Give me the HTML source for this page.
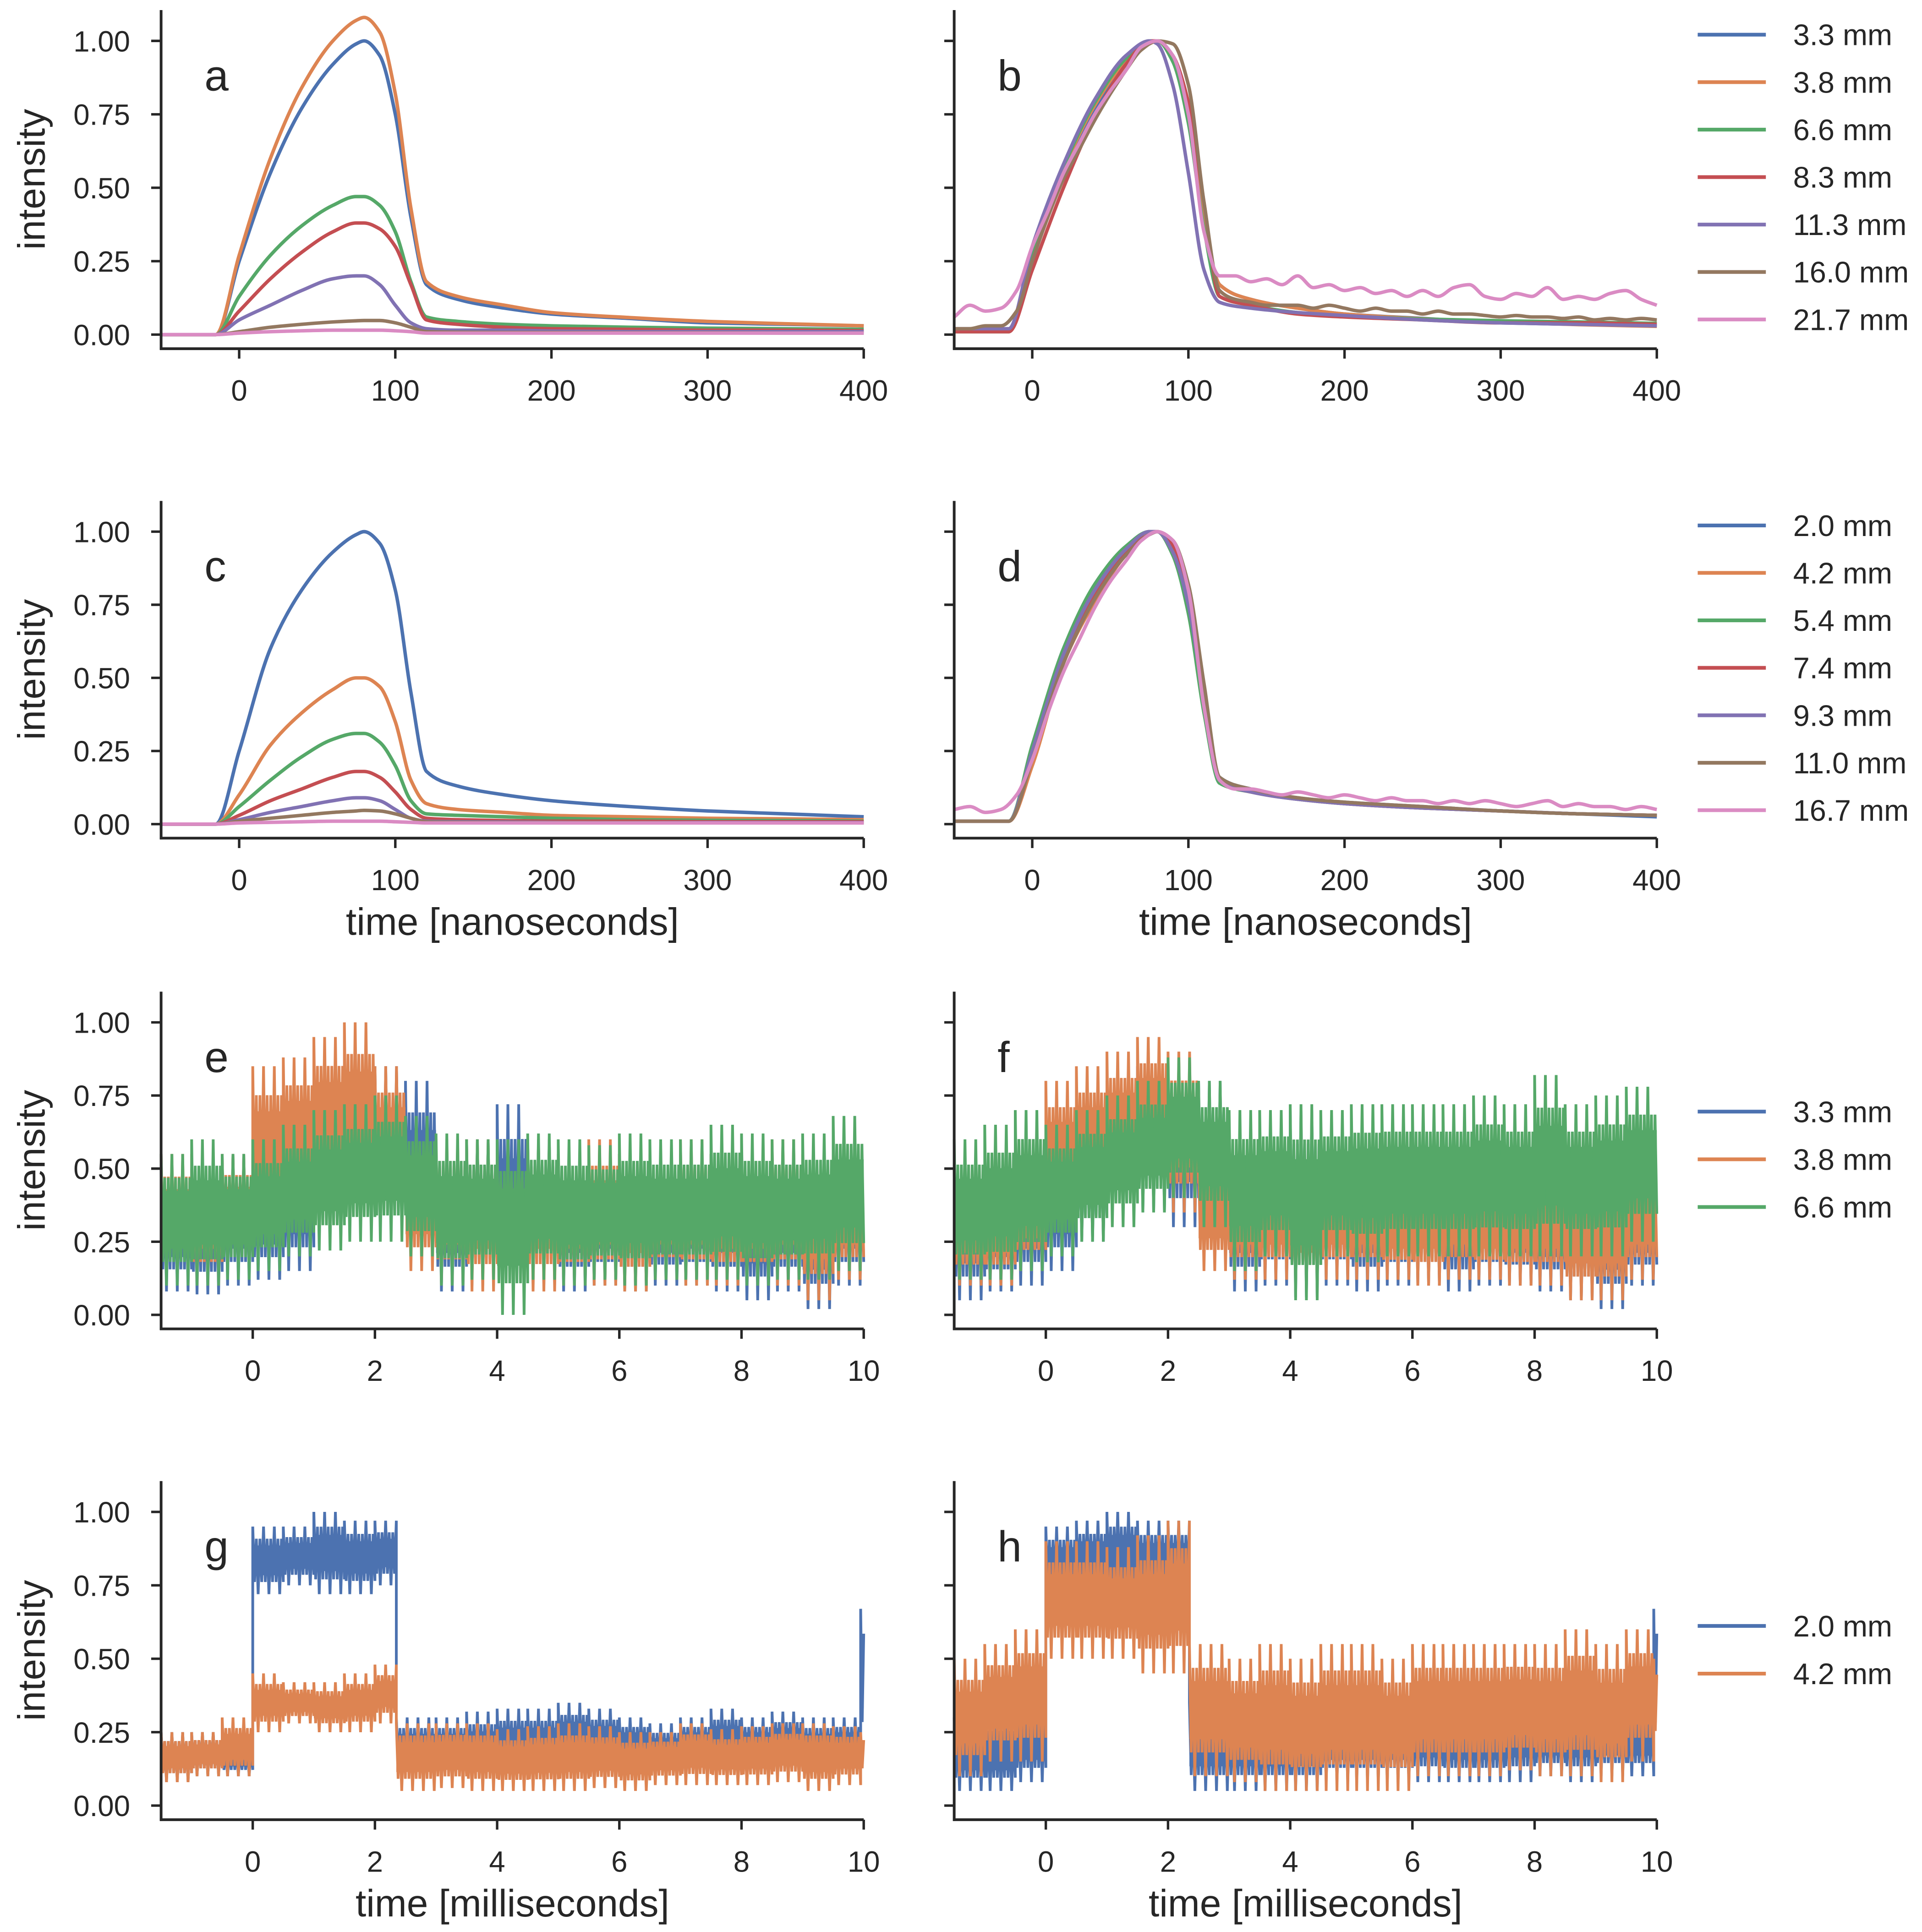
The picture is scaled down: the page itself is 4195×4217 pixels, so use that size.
<!DOCTYPE html>
<html><head><meta charset="utf-8">
<style>
html,body{margin:0;padding:0;background:#fff;}
svg{display:block;font-family:"Liberation Sans","DejaVu Sans",sans-serif;}
</style></head>
<body>
<svg id="fig" xmlns="http://www.w3.org/2000/svg" width="4195" height="4217" viewBox="0 0 1551 1559" preserveAspectRatio="none"></svg>
<script>
// ---------- data: nanosecond panels ----------
const nsTimes = [-50,-15,0,20,40,60,75,80,90,100,110,120,140,170,200,250,300,350,400];
const noisyTimes = [-50,-40,-30,-20,-10,0,10,20,30,40,50,60,70,80,90,100,110,120,130,140,150,160,170,180,190,200,210,220,230,240,250,260,270,280,290,300,310,320,330,340,350,360,370,380,390,400];

const aBlue   = [0,0,0.25,0.55,0.77,0.92,0.99,1.0,0.95,0.75,0.4,0.17,0.12,0.09,0.07,0.055,0.04,0.035,0.03];
const aOrange = [0,0,0.27,0.6,0.84,1.0,1.07,1.08,1.03,0.82,0.43,0.18,0.13,0.1,0.075,0.058,0.045,0.037,0.03];
const aGreen  = [0,0,0.13,0.27,0.37,0.44,0.47,0.47,0.44,0.35,0.18,0.06,0.045,0.035,0.03,0.025,0.022,0.02,0.018];
const aRed    = [0,0,0.08,0.19,0.28,0.35,0.38,0.38,0.36,0.3,0.17,0.05,0.035,0.025,0.02,0.018,0.015,0.015,0.013];
const aPurple = [0,0,0.05,0.1,0.15,0.19,0.2,0.2,0.17,0.1,0.04,0.02,0.015,0.015,0.012,0.01,0.01,0.01,0.01];
const aBrown  = [0,0,0.01,0.025,0.035,0.043,0.047,0.048,0.048,0.04,0.025,0.01,0.008,0.007,0.007,0.006,0.006,0.005,0.005];
const aPink   = [0,0,0.005,0.01,0.013,0.015,0.015,0.015,0.015,0.013,0.01,0.005,0.005,0.005,0.005,0.005,0.005,0.005,0.005];

const bBlue   = [0.01,0.01,0.25,0.55,0.77,0.92,0.99,1.0,0.95,0.75,0.4,0.17,0.12,0.09,0.07,0.055,0.04,0.035,0.03];
const bOrange = [0.01,0.01,0.25,0.56,0.78,0.93,0.99,1.0,0.95,0.76,0.4,0.17,0.12,0.09,0.07,0.054,0.042,0.034,0.028];
const bGreen  = [0.01,0.01,0.28,0.57,0.79,0.94,1.0,1.0,0.93,0.72,0.36,0.13,0.1,0.075,0.064,0.053,0.047,0.043,0.038];
const bRed    = [0.01,0.01,0.22,0.5,0.74,0.92,1.0,1.0,0.95,0.79,0.45,0.13,0.1,0.07,0.06,0.05,0.04,0.04,0.035];
const bPurple = [0.02,0.02,0.3,0.58,0.8,0.95,1.0,0.99,0.85,0.55,0.22,0.11,0.09,0.075,0.065,0.05,0.04,0.035,0.03];
const bBrown  = [0.02,0.02,0.03,0.03,0.08,0.25,0.4,0.53,0.63,0.73,0.82,0.9,0.97,1.0,0.99,0.85,0.45,0.15,0.12,0.11,0.1,0.1,0.1,0.09,0.1,0.09,0.08,0.09,0.08,0.08,0.07,0.08,0.07,0.07,0.065,0.06,0.065,0.06,0.06,0.055,0.06,0.05,0.055,0.05,0.055,0.05];
const bPink   = [0.06,0.1,0.08,0.09,0.15,0.3,0.42,0.55,0.65,0.75,0.83,0.9,0.98,1.0,0.95,0.75,0.35,0.2,0.2,0.18,0.19,0.17,0.2,0.16,0.17,0.15,0.16,0.14,0.15,0.13,0.15,0.13,0.16,0.17,0.13,0.12,0.14,0.13,0.16,0.12,0.13,0.12,0.14,0.15,0.12,0.1];

const cBlue   = [0,0,0.25,0.6,0.8,0.93,0.99,1.0,0.96,0.8,0.45,0.18,0.13,0.1,0.08,0.06,0.045,0.035,0.025];
const cOrange = [0,0,0.1,0.27,0.38,0.46,0.5,0.5,0.47,0.35,0.15,0.07,0.05,0.04,0.03,0.025,0.02,0.018,0.015];
const cGreen  = [0,0,0.06,0.15,0.23,0.29,0.31,0.31,0.28,0.2,0.08,0.035,0.03,0.025,0.02,0.015,0.013,0.012,0.01];
const cRed    = [0,0,0.03,0.08,0.12,0.16,0.18,0.18,0.16,0.11,0.05,0.02,0.015,0.012,0.01,0.01,0.008,0.008,0.008];
const cPurple = [0,0,0.015,0.04,0.06,0.08,0.09,0.09,0.08,0.05,0.02,0.01,0.008,0.007,0.006,0.005,0.005,0.005,0.005];
const cBrown  = [0,0,0.01,0.02,0.03,0.04,0.045,0.047,0.045,0.035,0.02,0.008,0.006,0.005,0.005,0.005,0.004,0.004,0.004];
const cPink   = [0,0,0.004,0.006,0.008,0.01,0.01,0.01,0.01,0.008,0.006,0.004,0.004,0.004,0.004,0.004,0.004,0.004,0.004];

const dBlue   = [0.01,0.01,0.25,0.6,0.8,0.93,0.99,1.0,0.96,0.8,0.45,0.16,0.12,0.09,0.075,0.06,0.045,0.035,0.025];
const dOrange = [0.01,0.01,0.2,0.55,0.76,0.92,0.99,1.0,0.95,0.78,0.45,0.15,0.11,0.09,0.07,0.055,0.045,0.035,0.03];
const dGreen  = [0.01,0.01,0.27,0.6,0.82,0.95,1.0,1.0,0.92,0.72,0.38,0.14,0.11,0.085,0.07,0.055,0.045,0.035,0.03];
const dRed    = [0.01,0.01,0.23,0.57,0.79,0.93,1.0,1.0,0.95,0.77,0.44,0.15,0.11,0.085,0.07,0.055,0.045,0.035,0.03];
const dPurple = [0.01,0.01,0.25,0.58,0.8,0.94,1.0,1.0,0.93,0.75,0.42,0.15,0.11,0.085,0.07,0.055,0.045,0.035,0.03];
const dBrown  = [0.01,0.01,0.22,0.55,0.77,0.92,0.99,1.0,0.97,0.82,0.48,0.16,0.12,0.09,0.075,0.06,0.045,0.035,0.03];
const dPink   = [0.05,0.06,0.04,0.05,0.1,0.22,0.38,0.52,0.63,0.74,0.83,0.9,0.97,1.0,0.97,0.8,0.4,0.15,0.12,0.12,0.11,0.1,0.11,0.1,0.09,0.1,0.09,0.08,0.09,0.08,0.08,0.07,0.08,0.07,0.08,0.07,0.06,0.07,0.08,0.06,0.07,0.06,0.06,0.05,0.06,0.05];

// ---------- data: millisecond panels (per-bin low / high envelopes) ----------
const efBinStarts = [-1.5,-1,-0.5,0,0.5,1,1.5,2,2.5,3,3.5,4,4.5,5,5.5,6,6.5,7,7.5,8,8.5,9,9.5];
const efBinEnd = 10;
const eBlueLo   = [0.08,0.07,0.1,0.12,0.15,0.25,0.3,0.3,0.2,0.08,0.1,0.06,0.1,0.08,0.1,0.08,0.1,0.1,0.08,0.05,0.08,0.02,0.1];
const eBlueHi   = [0.5,0.5,0.55,0.55,0.6,0.7,0.8,0.85,0.8,0.55,0.6,0.72,0.6,0.55,0.55,0.55,0.5,0.55,0.55,0.5,0.55,0.5,0.55];
const eOrangeLo = [0.12,0.1,0.15,0.3,0.35,0.4,0.4,0.35,0.15,0.1,0.08,0.1,0.08,0.1,0.1,0.08,0.12,0.1,0.1,0.1,0.1,0.05,0.12];
const eOrangeHi = [0.55,0.55,0.55,0.85,0.88,0.95,1.0,0.85,0.6,0.6,0.6,0.55,0.6,0.55,0.6,0.55,0.55,0.6,0.55,0.55,0.6,0.55,0.55];
const eGreenLo  = [0.1,0.1,0.12,0.15,0.2,0.22,0.25,0.25,0.2,0.1,0.12,0.0,0.12,0.1,0.12,0.1,0.12,0.12,0.12,0.1,0.12,0.12,0.15];
const eGreenHi  = [0.55,0.6,0.55,0.6,0.65,0.7,0.72,0.75,0.68,0.62,0.6,0.6,0.62,0.6,0.58,0.62,0.6,0.6,0.65,0.62,0.6,0.62,0.68];
const fBlueLo   = [0.05,0.08,0.1,0.15,0.25,0.35,0.35,0.3,0.25,0.08,0.1,0.06,0.1,0.08,0.1,0.1,0.08,0.1,0.1,0.08,0.05,0.02,0.1];
const fBlueHi   = [0.5,0.5,0.55,0.6,0.7,0.8,0.85,0.85,0.8,0.55,0.6,0.7,0.6,0.55,0.55,0.55,0.5,0.55,0.5,0.5,0.5,0.5,0.5];
const fOrangeLo = [0.1,0.1,0.15,0.3,0.35,0.4,0.45,0.35,0.15,0.12,0.12,0.1,0.12,0.12,0.12,0.1,0.12,0.12,0.1,0.1,0.05,0.05,0.12];
const fOrangeHi = [0.5,0.5,0.55,0.8,0.85,0.9,0.95,0.9,0.55,0.55,0.55,0.5,0.55,0.55,0.5,0.55,0.55,0.5,0.55,0.55,0.5,0.5,0.55];
const fGreenLo  = [0.12,0.12,0.15,0.2,0.25,0.3,0.35,0.4,0.3,0.15,0.2,0.05,0.2,0.18,0.2,0.2,0.2,0.2,0.2,0.2,0.2,0.2,0.25];
const fGreenHi  = [0.6,0.65,0.7,0.65,0.7,0.75,0.8,0.88,0.8,0.7,0.7,0.72,0.7,0.72,0.72,0.72,0.72,0.75,0.72,0.82,0.72,0.75,0.78];

const ghBinStarts = [-1.5,-1,-0.5,0,0.5,1,1.5,2,2.35,3,3.5,4,4.5,5,5.5,6,6.5,7,7.5,8,8.5,9,9.5,9.95];
const ghBinEnd = 10;
const gBlueLo   = [0.08,0.1,0.1,0.72,0.75,0.72,0.72,0.75,0.1,0.1,0.08,0.1,0.1,0.12,0.12,0.12,0.1,0.12,0.12,0.12,0.12,0.1,0.12,0.2];
const gBlueHi   = [0.25,0.25,0.22,0.95,0.95,1.0,0.97,0.97,0.3,0.3,0.32,0.33,0.33,0.35,0.33,0.3,0.28,0.3,0.33,0.3,0.32,0.3,0.3,0.67];
const gOrangeLo = [0.08,0.1,0.1,0.25,0.28,0.25,0.25,0.28,0.05,0.06,0.05,0.05,0.05,0.05,0.06,0.05,0.07,0.07,0.07,0.07,0.08,0.05,0.07,0.1];
const gOrangeHi = [0.25,0.25,0.3,0.45,0.42,0.42,0.45,0.48,0.28,0.28,0.28,0.26,0.27,0.28,0.27,0.25,0.25,0.28,0.26,0.27,0.28,0.28,0.27,0.25];
const hBlueLo   = [0.05,0.05,0.08,0.7,0.72,0.72,0.7,0.7,0.05,0.05,0.05,0.05,0.08,0.08,0.08,0.08,0.08,0.08,0.08,0.1,0.08,0.1,0.1,0.2];
const hBlueHi   = [0.3,0.3,0.35,0.95,0.97,1.0,0.97,0.97,0.35,0.35,0.35,0.35,0.35,0.35,0.35,0.38,0.35,0.35,0.38,0.35,0.38,0.35,0.35,0.67];
const hOrangeLo = [0.1,0.15,0.15,0.5,0.5,0.5,0.45,0.45,0.1,0.08,0.05,0.05,0.05,0.05,0.05,0.1,0.1,0.1,0.12,0.1,0.1,0.08,0.15,0.2];
const hOrangeHi = [0.5,0.55,0.6,0.9,0.9,0.88,0.92,0.97,0.55,0.5,0.55,0.5,0.55,0.55,0.5,0.55,0.55,0.55,0.55,0.55,0.6,0.55,0.6,0.5];

const yTicks = [0,0.25,0.5,0.75,1.0];
const yTickLabels = ["0.00","0.25","0.50","0.75","1.00"];
const nsTicks = [0,100,200,300,400];
const msTicks = [0,2,4,6,8,10];
const legendNs1 = ["3.3 mm","3.8 mm","6.6 mm","8.3 mm","11.3 mm","16.0 mm","21.7 mm"];
const legendNs2 = ["2.0 mm","4.2 mm","5.4 mm","7.4 mm","9.3 mm","11.0 mm","16.7 mm"];
const legendMs1 = ["3.3 mm","3.8 mm","6.6 mm"];
const legendMs2 = ["2.0 mm","4.2 mm"];

const COLORS = ["#4C72B0","#DD8452","#55A868","#C44E52","#8172B3","#937860","#DA8BC3"];
const NS = "http://www.w3.org/2000/svg";
const svg = document.getElementById('fig');

function mk(tag, attrs, parent){
  const e = document.createElementNS(NS, tag);
  for (const k in attrs) e.setAttribute(k, attrs[k]);
  (parent||svg).appendChild(e);
  return e;
}

const COLX = [{l:130, r:697}, {l:770, r:1337}];
const ROWY = [{y0:270, y1:33}, {y0:665, y1:429}, {y0:1061, y1:825}, {y0:1457, y1:1220}];
const YMIN = -0.048, YMAX = 1.105;

function makeAxes(col, row, xmin, xmax, xticks, letter, name, ylab, xlab){
  const g = mk('g', {});
  
  
  const C = COLX[col], R = ROWY[row];
  const sx = v => C.l + (v - xmin) / (xmax - xmin) * (C.r - C.l);
  const sy = v => R.y0 - v * (R.y0 - R.y1);
  const bottom = sy(YMIN), top = sy(YMAX);
  const plot = mk('g', {}, g);
  
  
  const sp1 = mk('line', {x1:C.l, y1:top, x2:C.l, y2:bottom+1, stroke:'#262626', 'stroke-width':2.2}, g);
  
  
  const sp2 = mk('line', {x1:C.l-1, y1:bottom, x2:C.r, y2:bottom, stroke:'#262626', 'stroke-width':2.2}, g);
  
  
  yTicks.forEach((v,i)=>{
    const y = sy(v);
    const t = mk('line', {x1:C.l-8, y1:y, x2:C.l, y2:y, stroke:'#262626', 'stroke-width':2}, g);
    
    
    if (col === 0){
      const tx = mk('text', {x:C.l-25, y:y+8.5, 'font-size':23.5, 'text-anchor':'end', fill:'#262626'}, g);
      tx.textContent = yTickLabels[i];
      
      
    }
  });
  xticks.forEach(v=>{
    const x = sx(v);
    const t = mk('line', {x1:x, y1:bottom, x2:x, y2:bottom+8, stroke:'#262626', 'stroke-width':2}, g);
    
    
    const tx = mk('text', {x:x, y:bottom+42, 'font-size':23.5, 'text-anchor':'middle', fill:'#262626'}, g);
    tx.textContent = String(v);
    
    
  });
  const lt = mk('text', {x:C.l+35, y:R.y1+40, 'font-size':35, fill:'#262626'}, g);
  lt.textContent = letter;
  
  
  if (ylab){
    const cy = (top + bottom)/2;
    const yl = mk('text', {x:0, y:0, 'font-size':31, 'text-anchor':'middle', fill:'#262626', transform:`translate(36,${cy}) rotate(-90)`}, g);
    yl.textContent = 'intensity';
    
    
  }
  if (xlab){
    const xl = mk('text', {x:(C.l+C.r)/2, y:bottom+78, 'font-size':31, 'text-anchor':'middle', fill:'#262626'}, g);
    xl.textContent = xlab;
    
    
  }
  return {g:plot, sx, sy};
}

// monotone cubic (Fritsch-Carlson) smoothed line through data points
function lineSeries(ax, xs, ys, color, name){
  const P = xs.map((x,i)=>[ax.sx(x), ax.sy(ys[i])]);
  const n = P.length;
  const dx = [], m = [];
  for (let i=0;i<n-1;i++){ dx.push(P[i+1][0]-P[i][0]); m.push((P[i+1][1]-P[i][1])/dx[i]); }
  const t = [m[0]];
  for (let i=1;i<n-1;i++){
    if (m[i-1]*m[i] <= 0) t.push(0);
    else { const w1 = 2*dx[i]+dx[i-1], w2 = dx[i]+2*dx[i-1]; t.push((w1+w2)/(w1/m[i-1]+w2/m[i])); }
  }
  t.push(m[n-2]);
  let d = 'M'+P[0][0].toFixed(2)+','+P[0][1].toFixed(2);
  for (let i=0;i<n-1;i++){
    const h = dx[i]/3;
    d += ` C${(P[i][0]+h).toFixed(2)},${(P[i][1]+t[i]*h).toFixed(2)} ${(P[i+1][0]-h).toFixed(2)},${(P[i+1][1]-t[i+1]*h).toFixed(2)} ${P[i+1][0].toFixed(2)},${P[i+1][1].toFixed(2)}`;
  }
  const p = mk('path', {d:d, fill:'none', stroke:color, 'stroke-width':2.8, 'stroke-linejoin':'round'}, ax.g);
  
  
}

function noisySeries(ax, starts, end, lo, hi, color, name){
  const up = [], dn = [];
  for (let i=0;i<starts.length;i++){
    const a = starts[i], b = (i+1<starts.length)? starts[i+1] : end;
    const span = hi[i]-lo[i];
    up.push([ax.sx(a), ax.sy(hi[i]-0.28*span)], [ax.sx(b), ax.sy(hi[i]-0.28*span)]);
    dn.push([ax.sx(a), ax.sy(lo[i]+0.28*span)], [ax.sx(b), ax.sy(lo[i]+0.28*span)]);
  }
  const poly = up.concat(dn.reverse()).map(p=>p[0].toFixed(2)+','+p[1].toFixed(2)).join(' ');
  const band = mk('polygon', {points:poly, fill:color, stroke:'none'}, ax.g);
  
  
  const pts = [];
  for (let i=0;i<starts.length;i++){
    const a = starts[i], b = (i+1<starts.length)? starts[i+1] : end;
    const n = Math.max(2, Math.round((b-a)/0.03));
    const span = hi[i]-lo[i];
    for (let k=0;k<=n;k++){
      const x = a + (b-a)*k/n;
      let v;
      if (k%2===0) v = (k%6===0) ? hi[i] : hi[i]-0.18*span;
      else v = (k%6===3) ? lo[i] : lo[i]+0.18*span;
      pts.push(ax.sx(x).toFixed(2)+','+ax.sy(v).toFixed(2));
    }
  }
  const p = mk('polyline', {points:pts.join(' '), fill:'none', stroke:color, 'stroke-width':2.2, 'stroke-linejoin':'miter'}, ax.g);
  
  
}

function legend(labels, y0, step, name){
  const g = mk('g', {});
  
  
  labels.forEach((lab,i)=>{
    const y = y0 + i*step;
    const l = mk('line', {x1:1370, y1:y, x2:1425, y2:y, stroke:COLORS[i], 'stroke-width':3}, g);
    
    
    const t = mk('text', {x:1447, y:y+8.5, 'font-size':24, fill:'#262626'}, g);
    t.textContent = lab;
    
    
  });
}

let ax = makeAxes(0,0,-50,400,nsTicks,'a','panel-a',true,null);
[aBlue,aOrange,aGreen,aRed,aPurple,aBrown,aPink].forEach((s,i)=>lineSeries(ax, nsTimes, s, COLORS[i], 'series-'+legendNs1[i].replace(' ','-')));
ax = makeAxes(1,0,-50,400,nsTicks,'b','panel-b',false,null);
[bBlue,bOrange,bGreen,bRed,bPurple].forEach((s,i)=>lineSeries(ax, nsTimes, s, COLORS[i], 'series-'+legendNs1[i].replace(' ','-')));
lineSeries(ax, noisyTimes, bBrown, COLORS[5], 'series-16.0-mm');
lineSeries(ax, noisyTimes, bPink, COLORS[6], 'series-21.7-mm');
legend(legendNs1, 28, 38.3, 'legend-ab');
ax = makeAxes(0,1,-50,400,nsTicks,'c','panel-c',true,'time [nanoseconds]');
[cBlue,cOrange,cGreen,cRed,cPurple,cBrown,cPink].forEach((s,i)=>lineSeries(ax, nsTimes, s, COLORS[i], 'series-'+legendNs2[i].replace(' ','-')));
ax = makeAxes(1,1,-50,400,nsTicks,'d','panel-d',false,'time [nanoseconds]');
[dBlue,dOrange,dGreen,dRed,dPurple,dBrown].forEach((s,i)=>lineSeries(ax, nsTimes, s, COLORS[i], 'series-'+legendNs2[i].replace(' ','-')));
lineSeries(ax, noisyTimes, dPink, COLORS[6], 'series-16.7-mm');
legend(legendNs2, 424, 38.3, 'legend-cd');
ax = makeAxes(0,2,-1.5,10,msTicks,'e','panel-e',true,null);
noisySeries(ax, efBinStarts, efBinEnd, eBlueLo, eBlueHi, COLORS[0], 'series-3.3-mm');
noisySeries(ax, efBinStarts, efBinEnd, eOrangeLo, eOrangeHi, COLORS[1], 'series-3.8-mm');
noisySeries(ax, efBinStarts, efBinEnd, eGreenLo, eGreenHi, COLORS[2], 'series-6.6-mm');
ax = makeAxes(1,2,-1.5,10,msTicks,'f','panel-f',false,null);
noisySeries(ax, efBinStarts, efBinEnd, fBlueLo, fBlueHi, COLORS[0], 'series-3.3-mm');
noisySeries(ax, efBinStarts, efBinEnd, fOrangeLo, fOrangeHi, COLORS[1], 'series-3.8-mm');
noisySeries(ax, efBinStarts, efBinEnd, fGreenLo, fGreenHi, COLORS[2], 'series-6.6-mm');
legend(legendMs1, 897, 38.5, 'legend-ef');
ax = makeAxes(0,3,-1.5,10,msTicks,'g','panel-g',true,'time [milliseconds]');
noisySeries(ax, ghBinStarts, ghBinEnd, gBlueLo, gBlueHi, COLORS[0], 'series-2.0-mm');
noisySeries(ax, ghBinStarts, ghBinEnd, gOrangeLo, gOrangeHi, COLORS[1], 'series-4.2-mm');
ax = makeAxes(1,3,-1.5,10,msTicks,'h','panel-h',false,'time [milliseconds]');
noisySeries(ax, ghBinStarts, ghBinEnd, hBlueLo, hBlueHi, COLORS[0], 'series-2.0-mm');
noisySeries(ax, ghBinStarts, ghBinEnd, hOrangeLo, hOrangeHi, COLORS[1], 'series-4.2-mm');
legend(legendMs2, 1312, 38.5, 'legend-gh');
</script>
</body></html>
